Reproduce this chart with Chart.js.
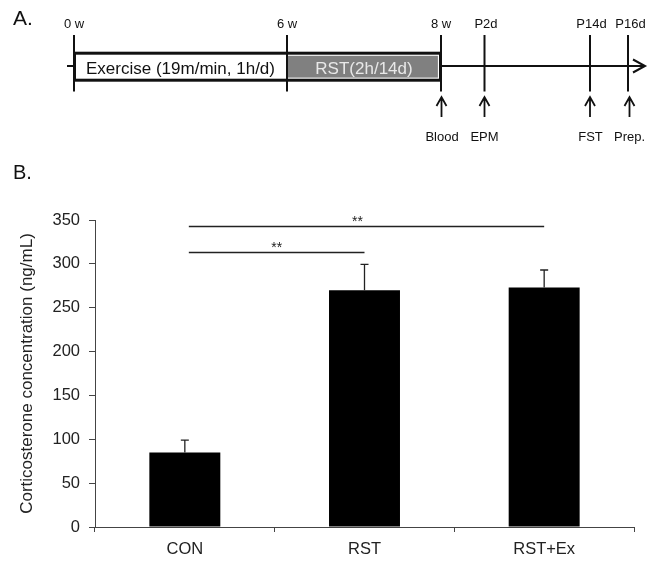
<!DOCTYPE html>
<html><head><meta charset="utf-8">
<script src="https://cdn.jsdelivr.net/npm/chart.js@4.4.0/dist/chart.umd.min.js"></script>
<style>html,body{margin:0;padding:0;background:#fff;} canvas{display:block;}</style>
</head><body>
<canvas id="c" width="658" height="561"></canvas>
<script>
// ---- data ----
const categories = ['CON', 'RST', 'RST+Ex'];
const meanValues = [85, 270, 273];
const semValues = [14, 29.5, 20];
const yMin = 0, yMax = 350, yStep = 50;
const sigPairs = [[0, 1], [0, 2]];
const sigLevels = [313, 343];
const sigLabels = ['**', '**'];
const yTitle = 'Corticosterone concentration (ng/mL)';
// timeline (panel A) text
const timelineTopLabels = ['0 w', '6 w', '8 w', 'P2d', 'P14d', 'P16d'];
const timelineEventLabels = ['Blood', 'EPM', 'FST', 'Prep.'];
const phaseLabels = ['Exercise (19m/min, 1h/d)', 'RST(2h/14d)'];

// ---- layout of schematic (positions, not data) ----
const FAM = '"Liberation Sans", Arial, sans-serif';
const TL = {
  stopX: [74, 287, 441, 484.5, 590, 628],
  labelDx: [0, 0, 0, 1.5, 1.5, 2.5],
  eventStop: [2, 3, 4, 5],
  eventDx: [1, 0, 0.5, 1.5],
  arrowDx: [0.5, 0, 0, 1.5],
  lineY: 66, stopTop: 35, stopBot: 91.5,
  boxL: 74.5, boxR: 440.5, boxT: 53.2, boxB: 80.2,
  endX: 645, startX: 67
};

const overlay = {
  id: 'overlay',
  afterDatasetsDraw(chart) {
    const ctx = chart.ctx;
    const ys = chart.scales.y;
    const meta = chart.getDatasetMeta(0);
    ctx.save();
    // error bars
    ctx.strokeStyle = '#222';
    ctx.lineWidth = 1.3;
    meta.data.forEach((el, i) => {
      const top = ys.getPixelForValue(meanValues[i] + semValues[i]);
      ctx.beginPath();
      ctx.moveTo(el.x, el.y);
      ctx.lineTo(el.x, top);
      ctx.moveTo(el.x - 4, top);
      ctx.lineTo(el.x + 4, top);
      ctx.stroke();
    });
    // significance brackets
    ctx.lineWidth = 1.5;
    ctx.fillStyle = '#222';
    ctx.font = '14px ' + FAM;
    ctx.textAlign = 'center';
    ctx.textBaseline = 'alphabetic';
    sigPairs.forEach((p, k) => {
      const x1 = meta.data[p[0]].x + 4;
      const x2 = meta.data[p[1]].x;
      const y = Math.round(ys.getPixelForValue(sigLevels[k])) + 0.5;
      ctx.beginPath();
      ctx.moveTo(x1, y);
      ctx.lineTo(x2, y);
      ctx.stroke();
      ctx.fillText(sigLabels[k], (x1 + x2) / 2 - (k === 1 ? 9 : 0), y - 1);
    });
    ctx.restore();
  },
  afterDraw(chart) {
    const ctx = chart.ctx;
    ctx.save();
    ctx.fillStyle = '#111';
    ctx.textAlign = 'left';
    ctx.textBaseline = 'alphabetic';
    ctx.font = '21px ' + FAM;
    ctx.fillText('A.', 13, 24.5);
    ctx.font = '20px ' + FAM;
    ctx.fillText('B.', 13, 178.5);

    // main time line and arrow head
    ctx.strokeStyle = '#111';
    ctx.lineWidth = 2;
    ctx.beginPath();
    ctx.moveTo(TL.startX, TL.lineY);
    ctx.lineTo(TL.endX, TL.lineY);
    ctx.moveTo(TL.endX - 12, TL.lineY - 6.5);
    ctx.lineTo(TL.endX, TL.lineY);
    ctx.lineTo(TL.endX - 12, TL.lineY + 6.5);
    ctx.stroke();

    // box
    ctx.fillStyle = '#fff';
    ctx.fillRect(TL.boxL, TL.boxT, TL.boxR - TL.boxL, TL.boxB - TL.boxT);
    ctx.fillStyle = '#808080';
    ctx.fillRect(TL.stopX[1], TL.boxT + 2.6, TL.boxR - TL.stopX[1] - 2.6, TL.boxB - TL.boxT - 5.2);
    ctx.lineWidth = 3;
    ctx.strokeStyle = '#111';
    ctx.strokeRect(TL.boxL, TL.boxT, TL.boxR - TL.boxL, TL.boxB - TL.boxT);

    // stop lines
    ctx.lineWidth = 2;
    TL.stopX.forEach(x => {
      ctx.beginPath();
      ctx.moveTo(x, TL.stopTop);
      ctx.lineTo(x, TL.stopBot);
      ctx.stroke();
    });

    // phase labels
    ctx.textAlign = 'center';
    ctx.font = '17px ' + FAM;
    ctx.fillStyle = '#111';
    ctx.fillText(phaseLabels[0], (TL.stopX[0] + TL.stopX[1]) / 2, 73.5);
    ctx.fillStyle = '#e8e8e8';
    ctx.fillText(phaseLabels[1], (TL.stopX[1] + TL.stopX[2]) / 2, 73.5);

    // top labels
    ctx.fillStyle = '#111';
    ctx.font = '13px ' + FAM;
    timelineTopLabels.forEach((t, i) => {
      ctx.fillText(t, TL.stopX[i] + TL.labelDx[i], 27.5);
    });

    // up arrows + event labels
    ctx.lineWidth = 1.8;
    timelineEventLabels.forEach((t, j) => {
      const sx = TL.stopX[TL.eventStop[j]];
      const ax = sx + TL.arrowDx[j];
      ctx.beginPath();
      ctx.moveTo(ax, 117);
      ctx.lineTo(ax, 97);
      ctx.moveTo(ax - 5, 106);
      ctx.lineTo(ax, 97);
      ctx.lineTo(ax + 5, 106);
      ctx.stroke();
      ctx.fillText(t, sx + TL.eventDx[j], 141);
    });
    ctx.restore();
  }
};

new Chart(document.getElementById('c'), {
  type: 'bar',
  data: {
    labels: categories,
    datasets: [{
      data: meanValues,
      backgroundColor: '#000',
      borderWidth: 0,
      barPercentage: 0.395,
      categoryPercentage: 1.0
    }]
  },
  options: {
    responsive: false,
    animation: false,
    devicePixelRatio: 1,
    layout: { padding: { top: 220, right: 24, left: 0, bottom: 0 } },
    plugins: { legend: { display: false }, tooltip: { enabled: false } },
    scales: {
      x: {
        offset: true,
        grid: { display: true, offset: true, drawOnChartArea: false, drawTicks: true, tickLength: 5, color: '#444', lineWidth: 1 },
        border: { display: true, color: '#444', width: 1 },
        ticks: { padding: 8, color: '#222', font: { size: 16.5, family: FAM } },
        afterFit(s) { s.height = 34; }
      },
      y: {
        min: yMin, max: yMax,
        ticks: { stepSize: yStep, padding: 9, color: '#222', font: { size: 16.5, family: FAM } },
        grid: { display: true, drawOnChartArea: false, drawTicks: true, tickLength: 6, color: '#444', lineWidth: 1 },
        border: { display: true, color: '#444', width: 1 },
        title: { display: true, text: yTitle, color: '#222', font: { size: 17, family: FAM }, padding: { top: 17, bottom: 0 } },
        afterFit(s) { s.width = 95; }
      }
    }
  },
  plugins: [overlay]
});
</script>
</body></html>
